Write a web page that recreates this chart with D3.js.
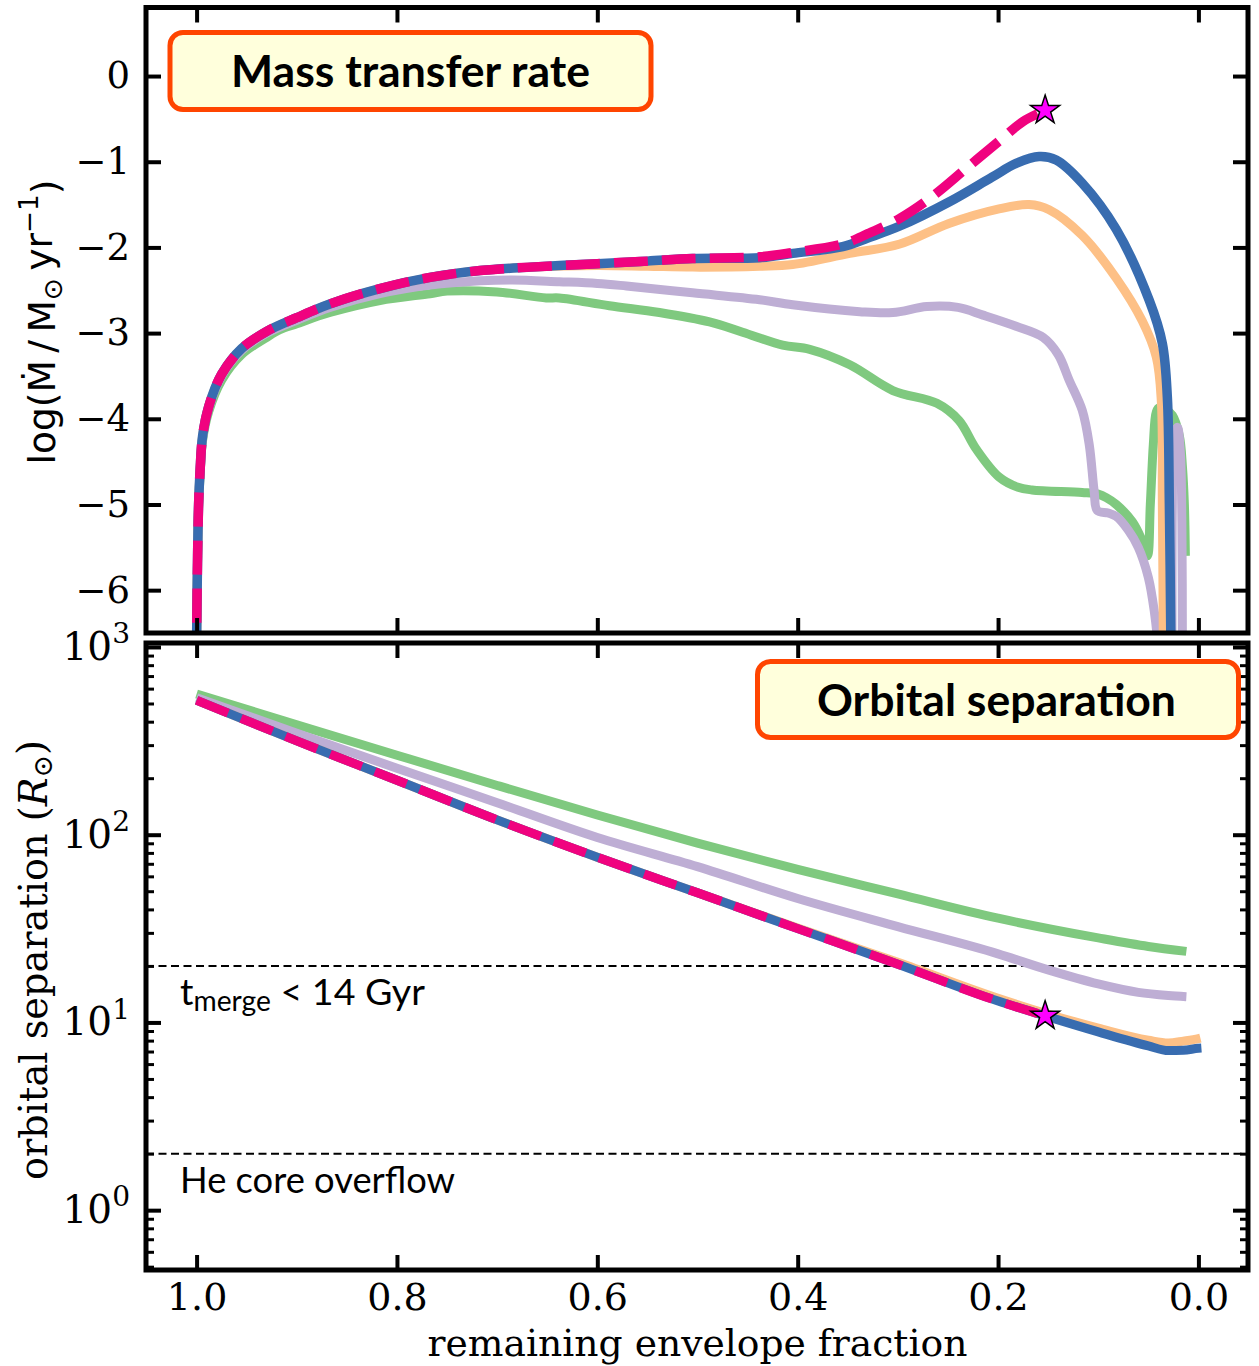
<!DOCTYPE html>
<html>
<head>
<meta charset="utf-8">
<script src="https://cdn.jsdelivr.net/npm/d3@7"></script>
<style>
  body { margin: 0; background: #fff; }
  svg { display: block; }
</style>
</head>
<body>
<svg id="chart" width="1259" height="1366"></svg>
<script>
// ---------------- data ----------------
// x: remaining envelope fraction; top panel: log10 of mass transfer rate (Msun/yr)
const fracTicks = [1.0, 0.8, 0.6, 0.4, 0.2, 0.0];
const rateTicks = [0, -1, -2, -3, -4, -5, -6];
const sepDecades = [0, 1, 2, 3];

const rateGreen = [[1.0005,-7.5],[1.0,-6.6],[0.999,-5.6],[0.998,-5.02],[0.9965,-4.65],[0.994,-4.25],[0.988,-3.92],
  [0.975,-3.55],[0.955,-3.25],[0.93,-3.05],[0.917,-2.96],[0.90,-2.89],[0.867,-2.76],[0.817,-2.62],[0.767,-2.54],
  [0.75,-2.51],[0.70,-2.52],[0.651,-2.59],[0.638,-2.59],[0.588,-2.68],[0.538,-2.76],[0.488,-2.87],[0.455,-2.99],
  [0.415,-3.14],[0.388,-3.19],[0.348,-3.37],[0.305,-3.67],[0.261,-3.82],[0.239,-4.02],[0.222,-4.35],[0.199,-4.68],
  [0.180,-4.80],[0.166,-4.83],[0.116,-4.86],[0.100,-4.88],[0.092,-4.92],[0.082,-5.0],[0.066,-5.2],[0.057,-5.4],
  [0.051,-5.6],[0.048,-5.0],[0.045,-4.3],[0.042,-3.92],[0.039,-3.87],[0.032,-3.9],[0.026,-3.96],[0.019,-4.2],
  [0.016,-4.55],[0.014,-5.0],[0.013,-5.6]];

const ratePurple = [[1.0005,-7.5],[1.0,-6.6],[0.999,-5.6],[0.998,-5.0],[0.9965,-4.62],[0.994,-4.22],[0.988,-3.88],
  [0.975,-3.5],[0.955,-3.2],[0.93,-3.0],[0.90,-2.85],[0.867,-2.70],[0.817,-2.54],[0.767,-2.44],[0.717,-2.39],
  [0.685,-2.38],[0.638,-2.40],[0.60,-2.42],[0.571,-2.45],[0.505,-2.53],[0.438,-2.61],[0.405,-2.67],[0.338,-2.75],
  [0.305,-2.76],[0.271,-2.69],[0.240,-2.70],[0.215,-2.79],[0.182,-2.92],[0.155,-3.05],[0.14,-3.25],[0.129,-3.55],
  [0.116,-3.9],[0.109,-4.3],[0.104,-4.85],[0.101,-5.07],[0.09,-5.10],[0.082,-5.14],[0.07,-5.3],[0.06,-5.5],
  [0.05,-5.85],[0.044,-6.25],[0.040,-6.7],[0.037,-7.5],[0.030,-8.5],[0.027,-7.5],[0.026,-5.0],[0.0245,-4.2],
  [0.021,-4.1],[0.018,-4.4],[0.0165,-5.2],[0.016,-6.6],[0.0158,-7.5]];

const rateOrange = [[1.0005,-7.5],[1.0,-6.6],[0.999,-5.6],[0.998,-5.0],[0.9965,-4.6],[0.994,-4.2],[0.988,-3.86],
  [0.975,-3.48],[0.955,-3.18],[0.93,-2.98],[0.90,-2.82],[0.867,-2.66],[0.817,-2.48],[0.767,-2.35],[0.717,-2.27],
  [0.667,-2.23],[0.60,-2.21],[0.55,-2.22],[0.505,-2.23],[0.438,-2.22],[0.405,-2.20],[0.348,-2.07],[0.298,-1.96],
  [0.249,-1.72],[0.199,-1.55],[0.169,-1.50],[0.149,-1.56],[0.116,-1.86],[0.082,-2.36],[0.056,-2.86],[0.042,-3.28],
  [0.037,-3.8],[0.036,-5.0],[0.035,-6.6],[0.0345,-7.5]];

const rateBlue = [[1.0005,-7.5],[1.0,-6.6],[0.999,-5.6],[0.998,-5.0],[0.9965,-4.6],[0.994,-4.2],[0.988,-3.86],
  [0.975,-3.48],[0.955,-3.18],[0.93,-2.98],[0.90,-2.82],[0.867,-2.66],[0.817,-2.48],[0.767,-2.35],[0.717,-2.27],
  [0.667,-2.23],[0.60,-2.19],[0.55,-2.16],[0.505,-2.13],[0.438,-2.12],[0.405,-2.07],[0.355,-1.99],[0.33,-1.89],
  [0.298,-1.75],[0.249,-1.47],[0.206,-1.18],[0.182,-1.02],[0.159,-0.94],[0.142,-0.98],[0.116,-1.25],[0.082,-1.79],
  [0.049,-2.62],[0.036,-3.12],[0.031,-3.75],[0.029,-5.0],[0.0275,-6.6],[0.027,-7.5]];

const ratePink = [[1.0005,-7.5],[1.0,-6.6],[0.999,-5.6],[0.998,-5.0],[0.9965,-4.6],[0.994,-4.2],[0.988,-3.86],
  [0.975,-3.48],[0.955,-3.18],[0.93,-2.98],[0.90,-2.82],[0.867,-2.66],[0.817,-2.48],[0.767,-2.35],[0.717,-2.27],
  [0.667,-2.23],[0.60,-2.19],[0.55,-2.16],[0.505,-2.13],[0.438,-2.11],[0.405,-2.06],[0.355,-1.96],[0.33,-1.84],
  [0.298,-1.66],[0.265,-1.40],[0.232,-1.08],[0.199,-0.76],[0.175,-0.53],[0.153,-0.40]];

// bottom panel: orbital separation in Rsun
const sepGreen = [[1.0,562],[0.9,385],[0.8,265],[0.7,183],[0.6,127.4],[0.5,90.2],[0.4,65.3],[0.3,48.4],
  [0.2,35.9],[0.1,28.2],[0.05,25.4],[0.012,23.9]];
const sepPurple = [[1.0,537],[0.9,347],[0.8,226],[0.7,148],[0.6,96.6],[0.5,67.6],[0.4,45.7],[0.3,32.4],
  [0.2,23.2],[0.15,19.05],[0.1,16.03],[0.06,14.45],[0.03,13.9],[0.012,13.7]];
const sepOrange = [[1.0,520],[0.9,316],[0.8,195],[0.7,120],[0.6,75.9],[0.5,49.0],[0.4,31.8],[0.3,20.9],
  [0.2,13.45],[0.153,11.2],[0.1,9.33],[0.05,8.04],[0.03,7.77],[0.015,7.95],[0.0,8.2],[-0.002,8.25]];
const sepBlue = [[1.0,520],[0.9,316],[0.8,195],[0.7,120],[0.6,75.9],[0.5,49.0],[0.4,31.6],[0.3,20.4],
  [0.2,13.0],[0.153,10.84],[0.1,8.91],[0.05,7.5],[0.03,7.08],[0.015,7.11],[0.0,7.28],[-0.003,7.3]];
const sepPink = [[1.0,520],[0.9,316],[0.8,195],[0.7,120],[0.6,75.9],[0.5,49.0],[0.4,31.6],[0.3,20.4],
  [0.2,13.0],[0.153,10.84]];

// merger point (end of the dashed track)
const mergerFrac = 0.153, mergerRate = -0.40, mergerSep = 10.84;

// separation thresholds (Rsun)
const sepThresholds = [20, 2];

// ---------------- layout ----------------
const svg = d3.select("#chart");
const X0 = 146, X1 = 1248;
const topPanel = { y0: 7.5, y1: 633 };
const botPanel = { y0: 643, y1: 1270 };

const colors = { green: "#7fc97f", purple: "#beaed4", orange: "#fdc086", blue: "#386cb0", pink: "#f0027f" };

const x = d3.scaleLinear().domain([1.05, -0.05]).range([X0 + 0.5, X1 + 0.5]);
const yRate = d3.scaleLinear().domain([-6.5, 0.8]).range([topPanel.y1, topPanel.y0]);
const ySep = d3.scaleLog().domain([0.48, 1050]).range([botPanel.y1, botPanel.y0]);

const serif = "'DejaVu Serif', serif";
const sans = "'DejaVu Sans', sans-serif";
const lato = "Lato, 'Open Sans', sans-serif";

const defs = svg.append("defs");
defs.append("clipPath").attr("id", "clipTop").append("rect")
  .attr("x", X0).attr("y", topPanel.y0).attr("width", X1 - X0).attr("height", topPanel.y1 - topPanel.y0);
defs.append("clipPath").attr("id", "clipBot").append("rect")
  .attr("x", X0).attr("y", botPanel.y0).attr("width", X1 - X0).attr("height", botPanel.y1 - botPanel.y0);

function fitWidth(sel, target) {
  const w = sel.node().getComputedTextLength();
  const fs = parseFloat(sel.attr("font-size"));
  sel.attr("font-size", (fs * target / w).toFixed(2));
}

// ---------------- top panel: mass transfer rate ----------------
const gTop = svg.append("g").attr("clip-path", "url(#clipTop)");
const lineRate = d3.line().x(d => x(d[0])).y(d => yRate(d[1])).curve(d3.curveCatmullRom.alpha(0.5));

[[rateGreen, colors.green, 9], [ratePurple, colors.purple, 9], [rateOrange, colors.orange, 9], [rateBlue, colors.blue, 9.5]]
  .forEach(([data, c, w]) => {
    gTop.append("path").attr("d", lineRate(data)).attr("fill", "none")
      .attr("stroke", c).attr("stroke-width", w).attr("stroke-linejoin", "round");
  });
gTop.append("path").attr("d", lineRate(ratePink)).attr("fill", "none")
  .attr("stroke", colors.pink).attr("stroke-width", 9.5).attr("stroke-dasharray", "34,14");

const star = d3.symbol(d3.symbolStar, 260);
gTop.append("path").attr("d", star())
  .attr("transform", `translate(${x(mergerFrac)},${yRate(mergerRate)})`)
  .attr("fill", "#ff00ff").attr("stroke", "#000").attr("stroke-width", 1.5);

// ---------------- bottom panel: orbital separation ----------------
const gBot = svg.append("g").attr("clip-path", "url(#clipBot)");
gBot.selectAll("line.thr").data(sepThresholds).join("line").attr("class", "thr")
  .attr("x1", X0).attr("x2", X1).attr("y1", d => ySep(d)).attr("y2", d => ySep(d))
  .attr("stroke", "#000").attr("stroke-width", 2).attr("stroke-dasharray", "8,4.5");

const lineSep = d3.line().x(d => x(d[0])).y(d => ySep(d[1])).curve(d3.curveMonotoneX);
[[sepGreen, colors.green], [sepPurple, colors.purple], [sepOrange, colors.orange], [sepBlue, colors.blue]]
  .forEach(([data, c]) => {
    gBot.append("path").attr("d", lineSep(data)).attr("fill", "none")
      .attr("stroke", c).attr("stroke-width", 9).attr("stroke-linejoin", "round");
  });
gBot.append("path").attr("d", lineSep(sepPink)).attr("fill", "none")
  .attr("stroke", colors.pink).attr("stroke-width", 9).attr("stroke-dasharray", "34,14");
gBot.append("path").attr("d", star())
  .attr("transform", `translate(${x(mergerFrac)},${ySep(mergerSep)})`)
  .attr("fill", "#ff00ff").attr("stroke", "#000").attr("stroke-width", 1.5);

// threshold annotations
const thrLabelX = X0 + 34;
const t1 = svg.append("text").attr("x", thrLabelX).attr("y", ySep(sepThresholds[0]) + 39)
  .attr("font-family", lato).attr("font-size", 34).attr("fill", "#000");
t1.append("tspan").text("t");
t1.append("tspan").attr("font-size", "75%").attr("dy", 6).text("merge");
t1.append("tspan").attr("dy", -6).text(" < 14 Gyr");
fitWidth(t1, 245);
const t2 = svg.append("text").attr("x", thrLabelX).attr("y", ySep(sepThresholds[1]) + 39)
  .attr("font-family", lato).attr("font-size", 34).attr("fill", "#000").text("He core overflow");
fitWidth(t2, 275);

// ---------------- axes ----------------
function styleAxis(g) {
  g.select(".domain").remove();
  g.selectAll(".tick line").attr("stroke", "#000").attr("stroke-width", 4);
}

// top panel
svg.append("g").attr("transform", `translate(0,${topPanel.y1})`)
  .call(d3.axisBottom(x).tickValues(fracTicks).tickSize(-15).tickFormat("")).call(styleAxis);
svg.append("g").attr("transform", `translate(0,${topPanel.y0})`)
  .call(d3.axisTop(x).tickValues(fracTicks).tickSize(-15).tickFormat("")).call(styleAxis);
svg.append("g").attr("transform", `translate(${X1},0)`)
  .call(d3.axisRight(yRate).tickValues(rateTicks).tickSize(-15).tickFormat("")).call(styleAxis);
const yRateAxis = svg.append("g").attr("transform", `translate(${X0},0)`)
  .call(d3.axisLeft(yRate).tickValues(rateTicks).tickSize(-15).tickPadding(16).tickFormat(d3.format("d")))
  .call(styleAxis);
yRateAxis.selectAll(".tick text").attr("font-family", serif).attr("font-size", 37).attr("fill", "#000");

// bottom panel
const minorSep = [];
for (let k = -1; k <= 3; k++) for (let m = 2; m <= 9; m++) {
  const v = m * Math.pow(10, k);
  if (v > 0.48 && v < 1050) minorSep.push(v);
}
const majorSep = sepDecades.map(k => Math.pow(10, k));

svg.append("g").attr("transform", `translate(0,${botPanel.y0})`)
  .call(d3.axisTop(x).tickValues(fracTicks).tickSize(-15).tickFormat("")).call(styleAxis);
const xAxis = svg.append("g").attr("transform", `translate(0,${botPanel.y1})`)
  .call(d3.axisBottom(x).tickValues(fracTicks).tickSize(-15).tickPadding(13).tickFormat(d3.format(".1f")))
  .call(styleAxis);
xAxis.selectAll(".tick text").attr("font-family", serif).attr("font-size", 38).attr("fill", "#000");

[[X0, d3.axisLeft], [X1, d3.axisRight]].forEach(([px, ax]) => {
  svg.append("g").attr("transform", `translate(${px},0)`)
    .call(ax(ySep).tickValues(minorSep).tickSize(-8).tickFormat("")).call(g => {
      g.select(".domain").remove();
      g.selectAll(".tick line").attr("stroke", "#000").attr("stroke-width", 3);
    });
});
svg.append("g").attr("transform", `translate(${X1},0)`)
  .call(d3.axisRight(ySep).tickValues(majorSep).tickSize(-15).tickFormat("")).call(styleAxis);
const ySepAxis = svg.append("g").attr("transform", `translate(${X0},0)`)
  .call(d3.axisLeft(ySep).tickValues(majorSep).tickSize(-15).tickPadding(16).tickFormat(""))
  .call(styleAxis);
ySepAxis.selectAll(".tick text").each(function(d) {
  const t = d3.select(this).attr("font-family", serif).attr("font-size", 39).attr("fill", "#000");
  t.append("tspan").text("10");
  t.append("tspan").attr("font-size", "72%").attr("dy", "-0.6em").text(Math.round(Math.log10(d)));
});

// frames
[topPanel, botPanel].forEach(p => {
  svg.append("rect").attr("x", X0).attr("y", p.y0).attr("width", X1 - X0).attr("height", p.y1 - p.y0)
    .attr("fill", "none").attr("stroke", "#000").attr("stroke-width", 5);
});

// axis titles
const xTitle = svg.append("text").attr("x", x(0.5)).attr("y", 1356).attr("text-anchor", "middle")
  .attr("font-family", serif).attr("font-size", 37).attr("fill", "#000").text("remaining envelope fraction");
fitWidth(xTitle, 540);

const yTop = svg.append("text").attr("transform", `translate(55,322) rotate(-90)`).attr("text-anchor", "middle")
  .attr("font-family", sans).attr("font-size", 33).attr("fill", "#000");
yTop.append("tspan").text("log(");
yTop.append("tspan").text("\u1E40");
yTop.append("tspan").text("\u2009/\u2009M");
yTop.append("tspan").attr("font-size", "70%").attr("dy", "0.25em").text("\u2299");
yTop.append("tspan").attr("dy", "-0.25em").text("\u2009yr");
yTop.append("tspan").attr("font-size", "70%").attr("dy", "-0.55em").text("\u22121");
yTop.append("tspan").attr("dy", "0.55em").text(")");
fitWidth(yTop, 285);

const yBot = svg.append("text").attr("transform", `translate(47,960) rotate(-90)`).attr("text-anchor", "middle")
  .attr("font-family", serif).attr("font-size", 37).attr("fill", "#000");
yBot.append("tspan").text("orbital separation (");
yBot.append("tspan").attr("font-style", "italic").text("R");
yBot.append("tspan").attr("font-size", "70%").attr("dy", "0.2em").text("\u2299");
yBot.append("tspan").attr("dy", "-0.2em").text(")");
fitWidth(yBot, 440);

// panel title boxes
function titleBox(bx, by, bw, bh, label, tx, ty, tw) {
  svg.append("rect").attr("x", bx).attr("y", by).attr("width", bw).attr("height", bh)
    .attr("rx", 13).attr("ry", 13).attr("fill", "#ffffdc").attr("stroke", "#ff4500").attr("stroke-width", 5);
  const t = svg.append("text").attr("x", tx).attr("y", ty).attr("text-anchor", "middle")
    .attr("dominant-baseline", "central").attr("font-family", lato).attr("font-weight", 700)
    .attr("font-size", 40).attr("fill", "#000").text(label);
  fitWidth(t, tw);
}
titleBox(170, 32.5, 481, 77, "Mass transfer rate", 410.5, 69, 359);
titleBox(757.5, 661.5, 481, 76, "Orbital separation", 996.5, 698, 359);
</script>
</body>
</html>
